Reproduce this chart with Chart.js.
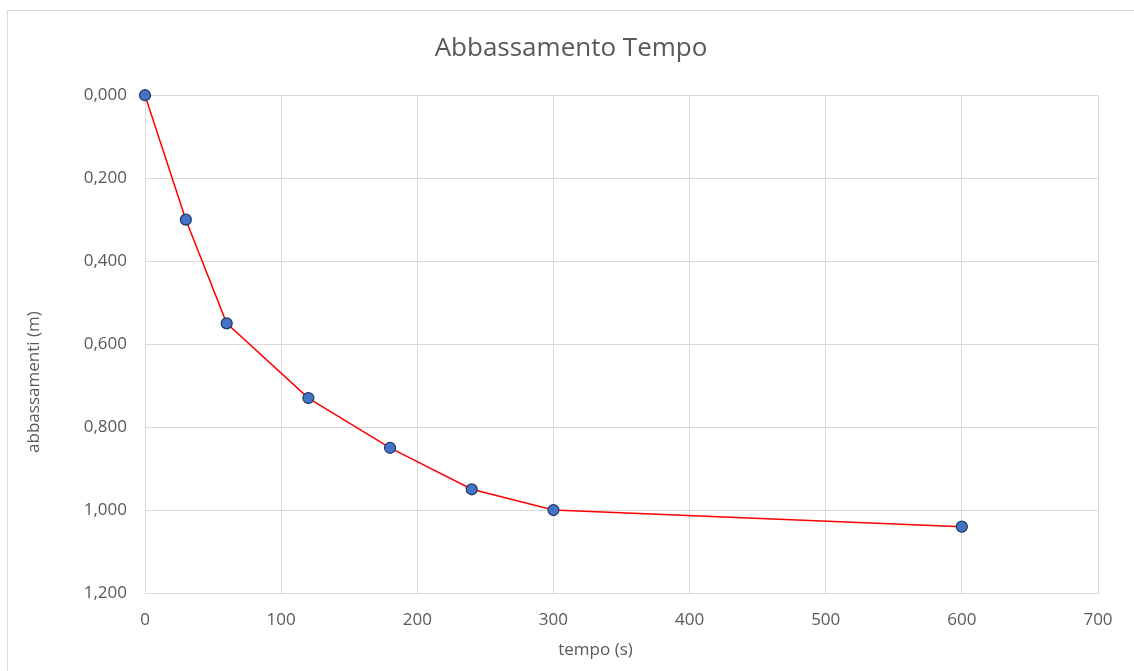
<!DOCTYPE html>
<html>
<head>
<meta charset="utf-8">
<title>Abbassamento Tempo</title>
<script src="https://cdn.jsdelivr.net/npm/chart.js@4.4.1/dist/chart.umd.min.js"></script>
<style>
  html, body { margin: 0; padding: 0; background: #fff; }
  #wrap { position: relative; width: 1134px; height: 671px; overflow: hidden; }
  #frame {
    position: absolute; left: 7px; top: 10px; width: 1140px; height: 680px;
    border: 1px solid #d9d9d9; box-sizing: border-box;
  }
  #chartAbbassamenti { position: absolute; left: 0; top: 0; }
</style>
</head>
<body>
<div id="wrap">
  <div id="frame"></div>
  <canvas id="chartAbbassamenti" width="1134" height="671"></canvas>
</div>
<script>
// misure di abbassamento nel tempo
const tempi = [0, 30, 60, 120, 180, 240, 300, 600];          // s
const abbassamenti = [0, 0.30, 0.55, 0.73, 0.85, 0.95, 1.00, 1.04]; // m

const xTitle = 'tempo (s)';
const yTitle = 'abbassamenti (m)';

const gray = '#595959';
const gridColor = '#d9d9d9';
const fontFamily = "'Open Sans', 'Liberation Sans', sans-serif";
const axisFontSize = 17;

// titoli degli assi, disegnati a mano come nel foglio di calcolo
const axisTitles = {
    id: 'axisTitles',
    afterDraw(chart) {
        const { ctx, chartArea } = chart;
        ctx.save();
        ctx.fillStyle = gray;
        ctx.font = axisFontSize + 'px ' + fontFamily;
        ctx.textAlign = 'center';
        ctx.textBaseline = 'middle';
        ctx.fillText(xTitle, (chartArea.left + chartArea.right) / 2 - 26, 650);
        ctx.translate(34, (chartArea.top + chartArea.bottom) / 2 + 38);
        ctx.rotate(-Math.PI / 2);
        ctx.fillText(yTitle, 0, 0);
        ctx.restore();
    }
};

const dataAbb = {
    datasets: [{
        label: 'abbassamenti',
        data: tempi.map((t, i) => ({ x: t, y: abbassamenti[i] })),
        showLine: true,
        clip: false,
        borderColor: '#ff0000',
        borderWidth: 1.5,
        tension: 0,
        pointRadius: 5.5,
        pointBackgroundColor: '#4472c4',
        pointBorderColor: '#1f3864',
        pointBorderWidth: 1.2
    }]
};

const configAbb = {
    type: 'scatter',
    data: dataAbb,
    plugins: [axisTitles],
    options: {
        responsive: false,
        animation: false,
        layout: {
            padding: { left: 44, right: 36, top: 20, bottom: 0 }
        },
        plugins: {
            legend: { display: false },
            tooltip: { enabled: false },
            title: {
                display: true,
                text: 'Abbassamento Tempo',
                color: gray,
                font: { family: fontFamily, size: 26, weight: 'normal' },
                padding: { top: 13, bottom: 31 }
            }
        },
        scales: {
            x: {
                type: 'linear',
                min: 0,
                max: 700,
                ticks: {
                    stepSize: 100,
                    color: gray,
                    padding: 17,
                    font: { family: fontFamily, size: axisFontSize }
                },
                grid: { color: gridColor, drawTicks: false, lineWidth: 1 },
                border: { color: gridColor },
                afterFit: (scale) => { scale.height = 78; }
            },
            y: {
                type: 'linear',
                reverse: true,
                min: 0,
                max: 1.2,
                ticks: {
                    stepSize: 0.2,
                    color: gray,
                    padding: 18,
                    font: { family: fontFamily, size: axisFontSize },
                    callback: (v) => v.toFixed(3).replace('.', ',')
                },
                grid: { color: gridColor, drawTicks: false, lineWidth: 1 },
                border: { color: gridColor },
                afterFit: (scale) => { scale.width = 101; }
            }
        }
    }
};

const myChartAbb = new Chart(
    document.getElementById('chartAbbassamenti'),
    configAbb
);
</script>
</body>
</html>
